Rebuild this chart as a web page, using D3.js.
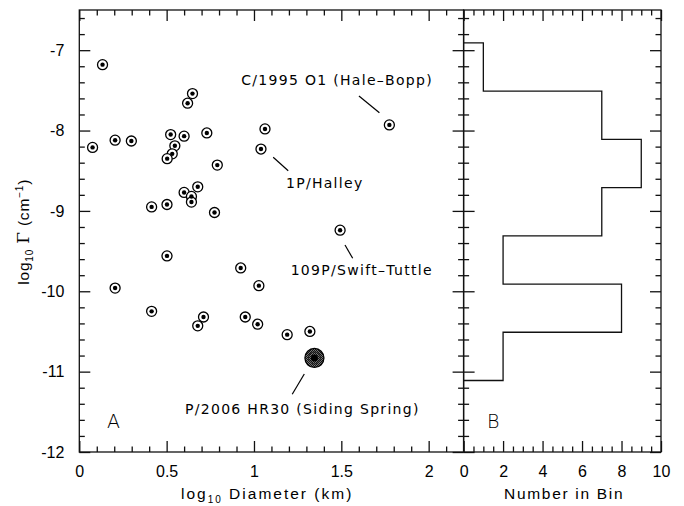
<!DOCTYPE html>
<html>
<head>
<meta charset="utf-8">
<script src="https://cdn.jsdelivr.net/npm/d3@7"></script>
<style>
  body { margin: 0; background: #fff; }
  text { fill: #000; }
</style>
</head>
<body>
<svg id="drawing_region"></svg>
<script>
// log10 diameter (km) and log10 Gamma (cm^-1) for each comet
const diam = [0.133, 0.648, 0.62, 0.076, 0.205, 0.298, 0.523, 0.60, 0.73, 0.547,
              0.532, 0.503, 0.79, 1.063, 1.040, 0.678, 0.60, 0.642, 0.642, 0.414,
              0.502, 0.774, 0.502, 0.205, 0.924, 1.028, 0.414, 0.711, 0.678, 0.95,
              1.021, 1.775, 1.493, 1.19, 1.32];
const gamma = [-7.18, -7.54, -7.66, -8.21, -8.12, -8.13, -8.05, -8.07, -8.03, -8.19,
               -8.29, -8.35, -8.43, -7.98, -8.23, -8.70, -8.77, -8.82, -8.89, -8.95,
               -8.92, -9.02, -9.56, -9.96, -9.71, -9.93, -10.25, -10.32, -10.43, -10.32,
               -10.41, -7.93, -9.24, -10.54, -10.50];
// P/2006 HR30 (Siding Spring)
const sidingSpring = [1.346, -10.83];

// histogram of log10 Gamma
const binEdges = [-6.91, -7.51, -8.11, -8.71, -9.31, -9.91, -10.51, -11.11];
const binCounts = [1, 7, 9, 7, 2, 8, 2];

// tick labels
const xTicks = [0, 0.5, 1, 1.5, 2];
const yTicks = [-12, -11, -10, -9, -8, -7];
const hTicks = [0, 2, 4, 6, 8, 10];

// annotations: text position, leader line ends (data units)
const noteText = ['C/1995 O1 (Hale\u2013Bopp)', '1P/Halley', '109P/Swift\u2013Tuttle', 'P/2006 HR30 (Siding Spring)'];
const noteAnchor = ['end', 'start', 'start', 'start'];
const notePos = [[2.025, -7.435], [1.183, -8.715], [1.210, -9.797], [0.605, -11.527]];
const noteLine = [[[1.601, -7.570], [1.718, -7.778]],
                  [[1.110, -8.333], [1.196, -8.500]],
                  [[1.521, -9.424], [1.565, -9.590]],
                  [[1.288, -11.029], [1.219, -11.282]]];

const W = 684, H = 506;
const svg = d3.select('#drawing_region').attr('width', W).attr('height', H);

const x = d3.scaleLinear().domain([0, 2.2]).range([79.3, 463.6]);
const y = d3.scaleLinear().domain([-12, -6.5]).range([452, 10]);
const h = d3.scaleLinear().domain([0, 10]).range([463.6, 661]);

const MAJ = 11, MIN = 5.5, SW = 1.3;

function range(a, b, s) {
    let out = [];
    for (let v = a; v <= b + 1e-9; v += s) out.push(Math.round(v * 1000) / 1000);
    return out;
}

// axis drawing helper
function drawAxis(axisFn, scale, ticks, size, transform, labels, pad) {
    let ax = axisFn(scale).tickValues(ticks).tickSizeInner(-size).tickSizeOuter(0)
        .tickPadding(pad || 0)
        .tickFormat(labels ? (d => String(d)) : '');
    let g = svg.append('g').attr('transform', transform).call(ax);
    g.select('.domain').remove();
    g.selectAll('line').attr('stroke', '#111').attr('stroke-width', SW);
    g.selectAll('text').attr('font-family', '"Liberation Sans", Arial, sans-serif')
        .attr('font-size', 16).attr('fill', '#000');
    return g;
}

const xMinor = range(0, 2.2, 0.1).filter(v => v > 0 && v < 2.2 && !xTicks.includes(v));
const yMinor = range(-12, -6.5, 0.2).filter(v => v > -12 && v < -6.5 && !yTicks.includes(v));
const hMinor = range(0, 10, 0.5).filter(v => v > 0 && v < 10 && !hTicks.includes(v));

// left panel
drawAxis(d3.axisBottom, x, xTicks, MAJ, `translate(0,${y(-12)})`, true, 14);
drawAxis(d3.axisBottom, x, xMinor, MIN, `translate(0,${y(-12)})`, false);
drawAxis(d3.axisTop, x, xTicks, MAJ, `translate(0,${y(-6.5)})`, false);
drawAxis(d3.axisTop, x, xMinor, MIN, `translate(0,${y(-6.5)})`, false);
drawAxis(d3.axisLeft, y, yTicks, MAJ, `translate(${x(0)},0)`, true, 15);
drawAxis(d3.axisLeft, y, yMinor, MIN, `translate(${x(0)},0)`, false);
drawAxis(d3.axisRight, y, yTicks, MAJ, `translate(${x(2.2)},0)`, false);
drawAxis(d3.axisRight, y, yMinor, MIN, `translate(${x(2.2)},0)`, false);

// right panel
drawAxis(d3.axisBottom, h, hTicks, MAJ, `translate(0,${y(-12)})`, true, 14);
drawAxis(d3.axisBottom, h, hMinor, MIN, `translate(0,${y(-12)})`, false);
drawAxis(d3.axisTop, h, hTicks, MAJ, `translate(0,${y(-6.5)})`, false);
drawAxis(d3.axisTop, h, hMinor, MIN, `translate(0,${y(-6.5)})`, false);
drawAxis(d3.axisLeft, y, yTicks, MAJ, `translate(${h(0)},0)`, false);
drawAxis(d3.axisLeft, y, yMinor, MIN, `translate(${h(0)},0)`, false);
drawAxis(d3.axisRight, y, yTicks, MAJ, `translate(${h(10)},0)`, false);
drawAxis(d3.axisRight, y, yMinor, MIN, `translate(${h(10)},0)`, false);

// frames
[[x(0), x(2.2)], [h(0), h(10)]].forEach(r => {
    svg.append('rect')
        .attr('x', r[0]).attr('y', y(-6.5))
        .attr('width', r[1] - r[0]).attr('height', y(-12) - y(-6.5))
        .attr('fill', 'none').attr('stroke', '#111').attr('stroke-width', SW);
});

// scatter points
const pts = diam.map((d, i) => [d, gamma[i]]);
const pg = svg.append('g');
pg.selectAll('circle.ring').data(pts).enter().append('circle')
    .attr('class', 'ring')
    .attr('cx', d => x(d[0])).attr('cy', d => y(d[1])).attr('r', 5)
    .attr('fill', '#fff').attr('stroke', '#000').attr('stroke-width', 1.3);
pg.selectAll('circle.dot').data(pts).enter().append('circle')
    .attr('class', 'dot')
    .attr('cx', d => x(d[0])).attr('cy', d => y(d[1])).attr('r', 2.2)
    .attr('fill', '#000');

// Siding Spring big hatched marker
const defs = svg.append('defs');
const pat = defs.append('pattern').attr('id', 'hatch').attr('patternUnits', 'userSpaceOnUse')
    .attr('width', 2).attr('height', 2);
pat.append('rect').attr('width', 2).attr('height', 2).attr('fill', '#777');
pat.append('rect').attr('width', 1).attr('height', 1).attr('fill', '#111');
pat.append('rect').attr('x', 1).attr('y', 1).attr('width', 1).attr('height', 1).attr('fill', '#111');
svg.append('circle')
    .attr('cx', x(sidingSpring[0])).attr('cy', y(sidingSpring[1])).attr('r', 9.5)
    .attr('fill', 'url(#hatch)').attr('stroke', '#000').attr('stroke-width', 1.3);
svg.append('circle')
    .attr('cx', x(sidingSpring[0])).attr('cy', y(sidingSpring[1])).attr('r', 6)
    .attr('fill', 'none').attr('stroke', '#222').attr('stroke-width', 1);
svg.append('circle')
    .attr('cx', x(sidingSpring[0])).attr('cy', y(sidingSpring[1])).attr('r', 3.5)
    .attr('fill', '#000');

// annotations
noteText.forEach((t, i) => {
    svg.append('text')
        .attr('x', x(notePos[i][0])).attr('y', y(notePos[i][1]))
        .attr('text-anchor', noteAnchor[i])
        .attr('font-family', '"DejaVu Sans", sans-serif').attr('font-size', 14)
        .attr('letter-spacing', 1.3)
        .text(t);
    svg.append('line')
        .attr('x1', x(noteLine[i][0][0])).attr('y1', y(noteLine[i][0][1]))
        .attr('x2', x(noteLine[i][1][0])).attr('y2', y(noteLine[i][1][1]))
        .attr('stroke', '#000').attr('stroke-width', 1.2);
});

// panel letters
svg.append('text').attr('x', x(0.159)).attr('y', y(-11.70))
    .attr('font-family', '"DejaVu Sans", sans-serif').attr('font-weight', 300)
    .attr('font-size', 19).text('A');
svg.append('text').attr('x', h(1.19)).attr('y', y(-11.70))
    .attr('font-family', '"DejaVu Sans", sans-serif').attr('font-weight', 300)
    .attr('font-size', 19).text('B');

// histogram
let stepPts = [[0, binEdges[0]]];
binCounts.forEach((c, i) => {
    stepPts.push([c, binEdges[i]]);
    stepPts.push([c, binEdges[i + 1]]);
});
stepPts.push([0, binEdges[binEdges.length - 1]]);
svg.append('path')
    .attr('d', d3.line().x(d => h(d[0])).y(d => y(d[1]))(stepPts))
    .attr('fill', 'none').attr('stroke', '#111').attr('stroke-width', SW);

// axis titles
const xt = svg.append('text').attr('x', 181).attr('y', 499)
    .attr('font-family', '"Liberation Sans", Arial, sans-serif').attr('font-size', 15.5)
    .attr('letter-spacing', 2);
xt.append('tspan').text('log');
xt.append('tspan').attr('font-size', 10).attr('dy', 4).text('10');
xt.append('tspan').attr('dy', -4).text(' Diameter (km)');

svg.append('text').attr('x', 504).attr('y', 499)
    .attr('font-family', '"Liberation Sans", Arial, sans-serif').attr('font-size', 15.5)
    .attr('letter-spacing', 1.7)
    .text('Number in Bin');

const yt = svg.append('text')
    .attr('transform', `translate(29,${y(-9.26)}) rotate(-90)`)
    .attr('text-anchor', 'middle')
    .attr('font-family', '"Liberation Sans", Arial, sans-serif').attr('font-size', 15.5)
    .attr('letter-spacing', 0.8);
yt.append('tspan').text('log');
yt.append('tspan').attr('font-size', 10).attr('dy', 4).text('10');
yt.append('tspan').attr('dy', -4).text(' ');
yt.append('tspan').attr('font-family', '"DejaVu Serif", serif').attr('font-size', 17).text('\u0393');
yt.append('tspan').text(' (cm');
yt.append('tspan').attr('font-size', 10).attr('dy', -6).text('\u22121');
yt.append('tspan').attr('dy', 6).text(')');
</script>
</body>
</html>
